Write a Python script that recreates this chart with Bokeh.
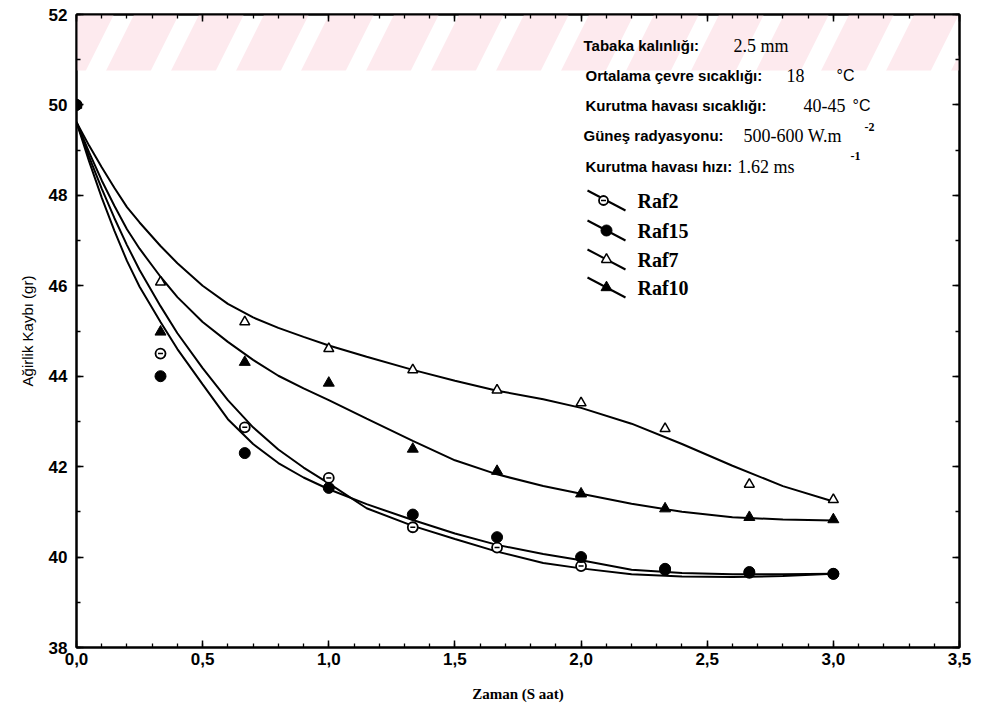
from bokeh.plotting import figure
from bokeh.models import Range1d, FixedTicker, LinearAxis, BoxAnnotation, CustomJSTickFormatter
from bokeh.core.properties import value
from bokeh.embed import file_html
from bokeh.resources import INLINE

# ---------------- data ----------------
time_obs = [0.0, 0.333, 0.667, 1.0, 1.333, 1.667, 2.0, 2.333, 2.667, 3.0]
raf2_obs = [50.0, 44.50, 42.87, 41.75, 40.66, 40.21, 39.80, 39.72, 39.65, 39.63]
raf15_obs = [50.0, 44.00, 42.30, 41.53, 40.94, 40.44, 40.00, 39.74, 39.67, 39.63]
raf7_obs = [50.0, 46.08, 45.20, 44.61, 44.14, 43.69, 43.41, 42.84, 41.61, 41.27]
raf10_obs = [50.0, 44.98, 44.31, 43.85, 42.39, 41.90, 41.40, 41.07, 40.88, 40.83]

# fitted curves
time_fit = [0.0, 0.05, 0.1, 0.15, 0.2, 0.25, 0.333, 0.4, 0.5, 0.6, 0.7, 0.8, 0.9, 1.0,
            1.15, 1.333, 1.5, 1.667, 1.85, 2.0, 2.2, 2.4, 2.6, 2.8, 3.0]
raf7_fit = [49.62, 49.10, 48.62, 48.17, 47.74, 47.40, 46.88, 46.50, 46.00, 45.60, 45.30, 45.07,
            44.87, 44.68, 44.43, 44.14, 43.90, 43.68, 43.49, 43.30, 42.95, 42.50, 42.02, 41.57,
            41.23]
raf10_fit = [49.62, 48.95, 48.33, 47.77, 47.25, 46.82, 46.20, 45.75, 45.20, 44.76, 44.36, 44.01,
             43.73, 43.47, 43.06, 42.57, 42.14, 41.83, 41.57, 41.40, 41.18, 41.00, 40.88, 40.83,
             40.81]
raf2_fit = [49.62, 48.85, 48.15, 47.50, 46.90, 46.35, 45.55, 44.95, 44.18, 43.47, 42.87, 42.38,
            41.98, 41.63, 41.08, 40.69, 40.40, 40.12, 39.87, 39.75, 39.62, 39.57, 39.56, 39.58,
            39.63]
raf15_fit = [49.62, 48.75, 47.95, 47.22, 46.55, 45.98, 45.20, 44.60, 43.82, 43.05, 42.50, 42.08,
             41.76, 41.50, 41.17, 40.82, 40.52, 40.27, 40.07, 39.93, 39.72, 39.65, 39.62, 39.62,
             39.63]

x_ticks = [0.0, 0.5, 1.0, 1.5, 2.0, 2.5, 3.0, 3.5]
x_minor = [round(i * 0.1, 1) for i in range(36)]
y_ticks = [38, 40, 42, 44, 46, 48, 50, 52]
y_minor = list(range(38, 53))

info_labels = ["Tabaka kalınlığı:", "Ortalama çevre sıcaklığı:", "Kurutma havası sıcaklığı:",
               "Güneş radyasyonu:", "Kurutma havası hızı:"]
info_values = ["2.5 mm", "18", "40-45", "500-600 W.m", "1.62 ms"]
series_names = ["Raf2", "Raf15", "Raf7", "Raf10"]

# ---------------- layout helpers ----------------
X0, X1, Y0, Y1 = 0.0, 3.5, 38.0, 52.0
FL, FR, FT, FB = 76, 959, 14, 647  # frame edges in page pixels


def dx(px):
    return X0 + (px - FL) / (FR - FL) * (X1 - X0)


def dy(py):
    return Y1 - (py - FT) / (FB - FT) * (Y1 - Y0)


p = figure(width=982, height=726, output_backend="svg", toolbar_location=None,
           x_range=Range1d(X0, X1), y_range=Range1d(Y0, Y1),
           min_border_left=FL, min_border_right=982 - FR,
           min_border_top=FT, min_border_bottom=726 - FB)
p.xgrid.visible = False
p.ygrid.visible = False
p.outline_line_color = "black"
p.outline_line_width = 2
p.background_fill_color = "white"
p.border_fill_color = "white"

# faint pink watermark band at the top
p.add_layout(BoxAnnotation(bottom=dy(70), fill_alpha=0, line_alpha=0,
                           hatch_pattern="/", hatch_color="#fdeaee", hatch_weight=40,
                           hatch_scale=130, hatch_alpha=1.0, level="underlay"))

fmt = CustomJSTickFormatter(code="return tick.toFixed(1).replace('.', ',');")
blank = CustomJSTickFormatter(code="return '';")

xa = p.xaxis[0]
xa.ticker = FixedTicker(ticks=x_ticks, minor_ticks=x_minor)
xa.formatter = fmt
ya = p.yaxis[0]
ya.ticker = FixedTicker(ticks=y_ticks, minor_ticks=y_minor)

tick_style = dict(major_tick_in=7, major_tick_out=0, minor_tick_in=4, minor_tick_out=0,
                  axis_line_width=2, axis_line_color="black",
                  major_tick_line_width=1.5, major_tick_line_color="black",
                  minor_tick_line_width=1.3, minor_tick_line_color="black")
for ax in (xa, ya):
    for k, v in tick_style.items():
        setattr(ax, k, v)
    ax.major_label_text_font = "Liberation Sans"
    ax.major_label_text_font_style = "bold"
    ax.major_label_text_font_size = "17px"
    ax.major_label_text_color = "black"

xa.major_label_standoff = 5
xa.axis_label = "Zaman (S aat)"
xa.axis_label_text_font = "Liberation Serif"
xa.axis_label_text_font_style = "bold"
xa.axis_label_text_font_size = "15px"
xa.axis_label_text_color = "black"
xa.axis_label_standoff = 18

ya.major_label_standoff = 9
ya.axis_label = "Ağirlik Kaybı (gr)"
ya.axis_label_text_font = "Liberation Sans"
ya.axis_label_text_font_style = "normal"
ya.axis_label_text_font_size = "15px"
ya.axis_label_text_color = "black"
ya.axis_label_standoff = 10

# top and right axes: ticks only
for loc, ticks, minors in (("above", x_ticks, x_minor), ("right", y_ticks, y_minor)):
    ax = LinearAxis(ticker=FixedTicker(ticks=ticks, minor_ticks=minors), formatter=blank,
                    major_label_standoff=0, **tick_style)
    p.add_layout(ax, loc)

# ---------------- curves ----------------
for ys in (raf7_fit, raf10_fit, raf2_fit, raf15_fit):
    p.line(time_fit, ys, line_color="black", line_width=2)

# ---------------- observed points ----------------
p.scatter(time_obs, raf7_obs, marker="triangle", size=10, fill_color="white",
          line_color="black", line_width=1.5)
p.scatter(time_obs, raf10_obs, marker="triangle", size=11, fill_color="black",
          line_color="black")
p.scatter(time_obs, raf2_obs, marker="circle", size=10, fill_color="white",
          line_color="black", line_width=1.8)
p.scatter(time_obs, raf2_obs, marker="dash", size=5, line_color="black", line_width=1.5)
p.scatter(time_obs, raf15_obs, marker="circle", size=11, fill_color="black",
          line_color="black")

# ---------------- info text block ----------------
label_px = [(583, 45), (585, 75), (585, 105), (583, 135), (585, 166)]
value_px = [(733, 45), (786, 75), (803, 105), (743, 135), (737, 166)]
p.text([dx(a) for a, _ in label_px], [dy(b) for _, b in label_px], text=info_labels,
       text_font=value("Liberation Sans"), text_font_style="bold", text_font_size="15px",
       text_align="left", text_baseline="middle", text_color="black")
p.text([dx(a) for a, _ in value_px], [dy(b) for _, b in value_px], text=info_values,
       text_font=value("Liberation Serif"), text_font_size="18px",
       text_align="left", text_baseline="middle", text_color="black")
p.text([dx(836), dx(852)], [dy(75), dy(105)], text=["°C", "°C"],
       text_font=value("Liberation Sans"), text_font_size="16px",
       text_align="left", text_baseline="middle", text_color="black")
p.text([dx(864), dx(850)], [dy(126), dy(155)], text=["-2", "-1"],
       text_font=value("Liberation Serif"), text_font_style="bold", text_font_size="12px",
       text_align="left", text_baseline="middle", text_color="black")

# ---------------- legend (drawn by hand) ----------------
leg_cy = [200, 230, 259, 287]
p.segment([dx(587)] * 4, [dy(c - 10) for c in leg_cy], [dx(625)] * 4, [dy(c + 10) for c in leg_cy],
          line_color="black", line_width=2)
p.scatter([dx(603)], [dy(leg_cy[0])], marker="circle", size=9, fill_color="white",
          line_color="black", line_width=1.8)
p.scatter([dx(603)], [dy(leg_cy[0])], marker="dash", size=5, line_color="black", line_width=1.5)
p.scatter([dx(606)], [dy(leg_cy[1])], marker="circle", size=11, fill_color="black",
          line_color="black")
p.scatter([dx(606)], [dy(leg_cy[2])], marker="triangle", size=10, fill_color="white",
          line_color="black", line_width=1.5)
p.scatter([dx(606)], [dy(leg_cy[3])], marker="triangle", size=11, fill_color="black",
          line_color="black")
p.text([dx(637)] * 4, [dy(c) for c in leg_cy], text=series_names,
       text_font=value("Liberation Serif"), text_font_style="bold", text_font_size="20px",
       text_align="left", text_baseline="middle", text_color="black")

open("out.html", "w").write(file_html(p, INLINE))
